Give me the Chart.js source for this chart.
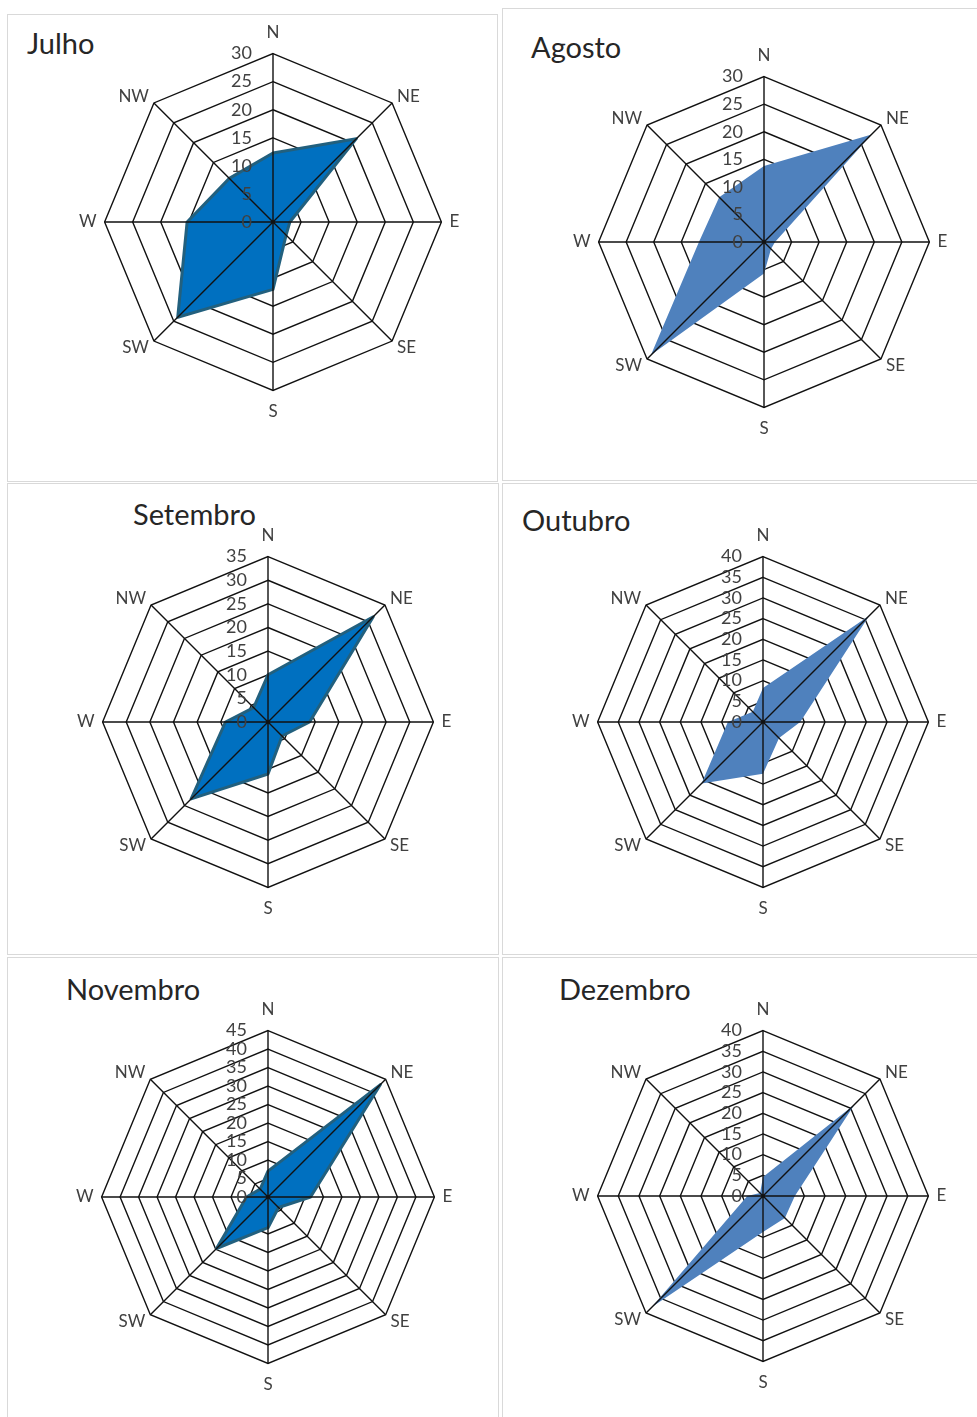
<!DOCTYPE html>
<html>
<head>
<meta charset="utf-8">
<script src="https://cdn.jsdelivr.net/npm/chart.js@4"></script>
<style>
  html, body { margin: 0; padding: 0; background: #fff; }
  #page { position: relative; width: 977px; height: 1417px; overflow: hidden; background: #fff; }
  .panel { position: absolute; box-sizing: border-box; border: 1px solid #d9d9d9; background: #fff; }
  .title { position: absolute; font-family: Lato, "Open Sans", sans-serif; font-size: 29px; line-height: 29px; color: #262626; white-space: nowrap; }
  canvas { position: absolute; }
</style>
</head>
<body>
<div id="page"></div>
<script>
// Wind direction sectors (clockwise from north)
const directions = ['N', 'NE', 'E', 'SE', 'S', 'SW', 'W', 'NW'];

// Frequency per direction, one array per month
const julho    = [12.3, 21.0, 3.0, 3.3, 12.0, 24.0, 15.3, 11.0];
const agosto   = [13.8, 27.6, 2.0, 1.8, 5.7, 29.0, 11.8, 11.5];
const setembro = [10.0, 31.5, 8.8, 4.2, 11.0, 23.0, 9.0, 4.3];
const outubro  = [8.2, 36.3, 9.0, 5.5, 12.5, 21.0, 8.5, 3.5];
const novembro = [7.0, 43.0, 11.5, 4.0, 8.3, 19.7, 5.8, 3.0];
const dezembro = [4.6, 31.3, 7.7, 7.5, 8.7, 38.0, 3.8, 1.0];

// Radial axis: top tick of each month, ticks every 5
const axisMaxima = [30, 30, 35, 40, 45, 40];
const tickStep = 5;

const monthNames = ['Julho', 'Agosto', 'Setembro', 'Outubro', 'Novembro', 'Dezembro'];
const monthSeries = [julho, agosto, setembro, outubro, novembro, dezembro];

// Two fill styles alternate across the grid
const STYLE_DARK  = { fill: '#0070c0', line: '#22607e', width: 3 };
const STYLE_LIGHT = { fill: '#4f81bd', line: '#4f81bd', width: 0 };
const GRID = '#111';
const TEXT = '#404040';
const FONT = 'Lato, "Open Sans", sans-serif';

// Page layout: panel frames, title anchors, radar centre and radius
const layout = [
  { box: [7, 14, 491, 468],   title: [27, 28],   cx: 273, cy: 222, r: 169, style: STYLE_DARK },
  { box: [502, 8, 480, 473],  title: [531, 32],  cx: 764, cy: 242, r: 166, style: STYLE_LIGHT },
  { box: [7, 483, 492, 472],  title: [133, 499], cx: 268, cy: 722, r: 166, style: STYLE_DARK },
  { box: [502, 483, 480, 472],title: [522, 505], cx: 763, cy: 722, r: 166, style: STYLE_LIGHT },
  { box: [7, 957, 492, 470],  title: [66, 974],  cx: 268, cy: 1197, r: 167, style: STYLE_DARK },
  { box: [502, 957, 480, 470],title: [559, 974], cx: 763, cy: 1196, r: 166, style: STYLE_LIGHT }
];

const page = document.getElementById('page');

// Spokes and value labels sit on top of the filled area
const spokesAndTicks = {
  id: 'spokesAndTicks',
  afterDatasetsDraw(chart) {
    const r = chart.scales.r;
    const ctx = chart.ctx;
    ctx.save();
    ctx.strokeStyle = GRID;
    ctx.lineWidth = 1.4;
    ctx.beginPath();
    for (let i = 0; i < chart.data.labels.length; i++) {
      const p = r.getPointPosition(i, r.drawingArea);
      ctx.moveTo(r.xCenter, r.yCenter);
      ctx.lineTo(p.x, p.y);
    }
    ctx.stroke();
    ctx.font = '18px ' + FONT;
    ctx.fillStyle = TEXT;
    ctx.textAlign = 'right';
    ctx.textBaseline = 'middle';
    r.ticks.forEach(t => {
      const dist = r.getDistanceFromCenterForValue(t.value);
      ctx.fillText(t.label, r.xCenter - 21, r.yCenter - dist);
    });
    ctx.restore();
  }
};

// Compass labels: a short line box keeps diagonal labels level with their corner
function labelPadding(ctx) {
  if (ctx.index % 4 === 0) return 19;   // N, S
  if (ctx.index % 4 === 2) return 8;    // E, W
  return 7;                             // diagonals
}

function radarConfig(values, axisMax, style) {
  return {
    type: 'radar',
    data: {
      labels: directions,
      datasets: [{
        data: values,
        backgroundColor: style.fill,
        borderColor: style.line,
        borderWidth: style.width,
        borderJoinStyle: 'round',
        pointRadius: 0,
        pointHoverRadius: 0,
        fill: 'origin',
        tension: 0
      }]
    },
    options: {
      responsive: false,
      animation: false,
      events: [],
      layout: { padding: 18 },
      plugins: { legend: { display: false }, tooltip: { enabled: false } },
      scales: {
        r: {
          min: 0,
          max: axisMax,
          ticks: { stepSize: tickStep, display: false },
          grid: { color: GRID, lineWidth: 1.4 },
          angleLines: { display: false },
          pointLabels: {
            color: TEXT,
            font: { family: FONT, size: 17, lineHeight: 0.2 },
            padding: labelPadding
          }
        }
      }
    },
    plugins: [spokesAndTicks]
  };
}

// Build a radar whose drawing radius and centre land where the layout wants them
function mountRadar(spec, values, axisMax) {
  let side = 2 * spec.r + 100;
  let canvas, chart;
  const build = () => {
    canvas = document.createElement('canvas');
    canvas.width = side;
    canvas.height = side;
    canvas.style.width = side + 'px';
    canvas.style.height = side + 'px';
    page.appendChild(canvas);
    chart = new Chart(canvas, radarConfig(values, axisMax, spec.style));
  };
  build();
  const diff = spec.r - chart.scales.r.drawingArea;
  if (Math.abs(diff) >= 0.5) {
    chart.destroy();
    canvas.remove();
    side += Math.round(2 * diff);
    build();
  }
  const s = chart.scales.r;
  canvas.style.left = (spec.cx - s.xCenter) + 'px';
  canvas.style.top = (spec.cy - s.yCenter) + 'px';
}

layout.forEach((spec, i) => {
  const panel = document.createElement('div');
  panel.className = 'panel';
  panel.style.left = spec.box[0] + 'px';
  panel.style.top = spec.box[1] + 'px';
  panel.style.width = spec.box[2] + 'px';
  panel.style.height = spec.box[3] + 'px';
  page.appendChild(panel);

  const title = document.createElement('div');
  title.className = 'title';
  title.textContent = monthNames[i];
  title.style.left = spec.title[0] + 'px';
  title.style.top = spec.title[1] + 'px';
  page.appendChild(title);

  mountRadar(spec, monthSeries[i], axisMaxima[i]);
});
</script>
</body>
</html>
